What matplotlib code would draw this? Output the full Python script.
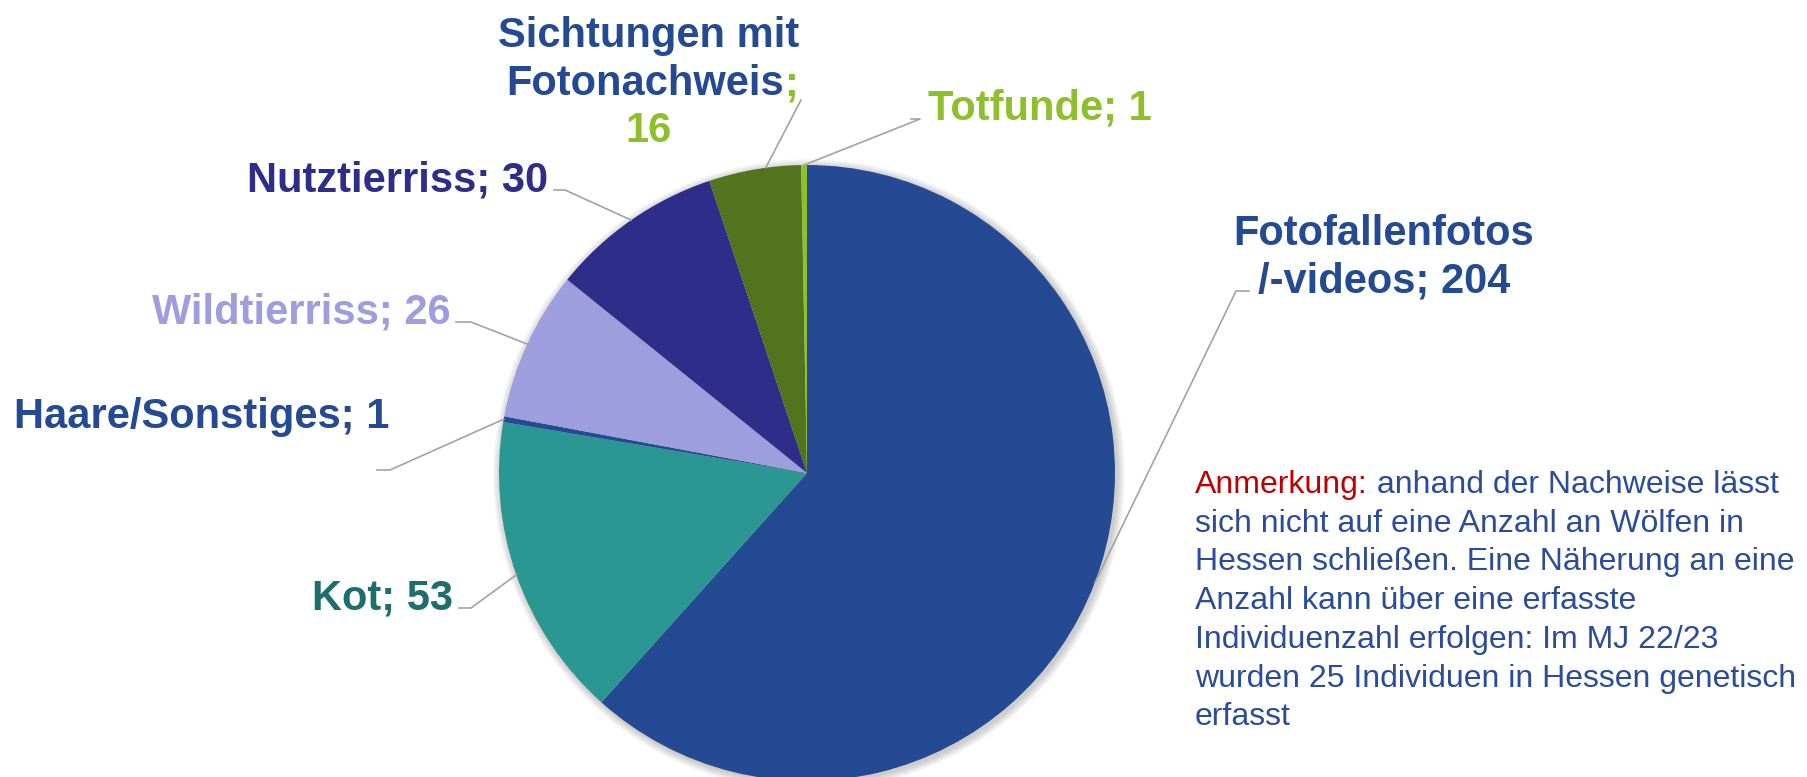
import numpy as np
import matplotlib
matplotlib.use("Agg")
import matplotlib.pyplot as plt
from matplotlib.patches import Circle

plt.rcParams['font.family'] = ['Liberation Sans', 'DejaVu Sans']

W, H = 1808, 777

# data
names = ['Fotofallenfotos\n/-videos', 'Kot', 'Haare/Sonstiges', 'Wildtierriss',
         'Nutztierriss', 'Sichtungen mit\nFotonachweis', 'Totfunde']
values = [204, 53, 1, 26, 30, 16, 1]
colors = ['#244A93', '#2A9792', '#244A93', '#9E9EDE', '#2E2E8A', '#53741E', '#8DC02C']
label_colors = ['#244A93', '#1E6E6E', '#244A93', '#9E9EDE', '#2E2E8A', '#244A93', '#8DC02C']

note_head = 'Anmerkung:'
note_lines = [' anhand der Nachweise lässt',
              'sich nicht auf eine Anzahl an Wölfen in',
              'Hessen schließen. Eine Näherung an eine',
              'Anzahl kann über eine erfasste',
              'Individuenzahl erfolgen: Im MJ 22/23',
              'wurden 25 Individuen in Hessen genetisch',
              'erfasst']


def Y(y):
    # image pixel row -> data y
    return H - y


fig = plt.figure(figsize=(W / 100, H / 100), dpi=100)
ax = fig.add_axes([0, 0, 1, 1])

cx, cy, r = 807, 473, 308

# soft shadow round the pie
for k in range(10):
    ax.add_patch(Circle((cx + 2, Y(cy) - 2), r + 1 + k * 0.8, color='#000000',
                        alpha=0.018, lw=0, zorder=0))

wedges, _ = ax.pie(values, colors=colors, startangle=90, counterclock=False,
                   radius=r, center=(cx, Y(cy)), wedgeprops=dict(linewidth=0))
for w in wedges:
    w.set_zorder(2)

ax.set_xlim(0, W)
ax.set_ylim(0, H)
ax.set_aspect('equal')
ax.axis('off')

# label layout: text anchor (image px), alignment, leader elbow and end
layout = [
    dict(xy=(1384, 258), ha='center', elbow=(1236, 291), end=(1249, 291)),
    dict(xy=(453, 599), ha='right', elbow=(471, 608), end=(459, 608)),
    dict(xy=(14, 417), ha='left', elbow=(390, 470), end=(377, 470)),
    dict(xy=(451, 313), ha='right', elbow=(471, 322), end=(456, 322)),
    dict(xy=(548, 181), ha='right', elbow=(565, 190), end=(554, 190)),
    None,
    dict(xy=(928, 109), ha='left', elbow=(920, 119), end=(911, 119)),
]

font = dict(fontsize=30, fontweight='bold')
lc = '#A3A3A3'

for i, w in enumerate(wedges):
    mid = np.deg2rad((w.theta1 + w.theta2) / 2)
    ex, ey = cx + r * np.cos(mid), Y(cy) + r * np.sin(mid)
    lay = layout[i]
    if lay is None:
        # Sichtungen mit Fotonachweis; 16 (mixed colours)
        mid = np.deg2rad(w.theta1 * 0.62 + w.theta2 * 0.38)
        ex, ey = cx + r * np.cos(mid), Y(cy) + r * np.sin(mid)
        ax.plot([ex, 801], [ey, Y(100)], color=lc, lw=1.2, zorder=3)
        ax.text(649, Y(36), 'Sichtungen mit', ha='center', va='center',
                color=label_colors[i], **font)
        ax.text(784, Y(84), 'Fotonachweis', ha='right', va='center',
                color=label_colors[i], **font)
        ax.text(784, Y(84), ';', ha='left', va='center', color='#8DC02C', **font)
        ax.text(649, Y(131), str(values[i]), ha='center', va='center',
                color='#8DC02C', **font)
        continue
    bx, by = lay['elbow']
    qx, qy = lay['end']
    ax.plot([ex, bx, qx], [ey, Y(by), Y(qy)], color=lc, lw=1.2, zorder=3)
    tx, ty = lay['xy']
    ax.text(tx, Y(ty), f'{names[i]}; {values[i]}', ha=lay['ha'], va='center',
            multialignment='center', linespacing=1.24,
            color=label_colors[i], **font)

# note on the right
renderer = fig.canvas.get_renderer()
nx, ny, step = 1195, 485, 38.7
head = ax.text(nx, Y(ny), note_head, ha='left', va='center', fontsize=23,
               color='#C00000')
bb = head.get_window_extent(renderer)
ax.text(bb.x1, Y(ny), note_lines[0], ha='left', va='center', fontsize=23,
        color='#2B4C9B')
for k, line in enumerate(note_lines[1:], start=1):
    ax.text(nx, Y(ny + k * step), line, ha='left', va='center', fontsize=23,
            color='#2B4C9B')

fig.savefig('out.png', dpi=100)
